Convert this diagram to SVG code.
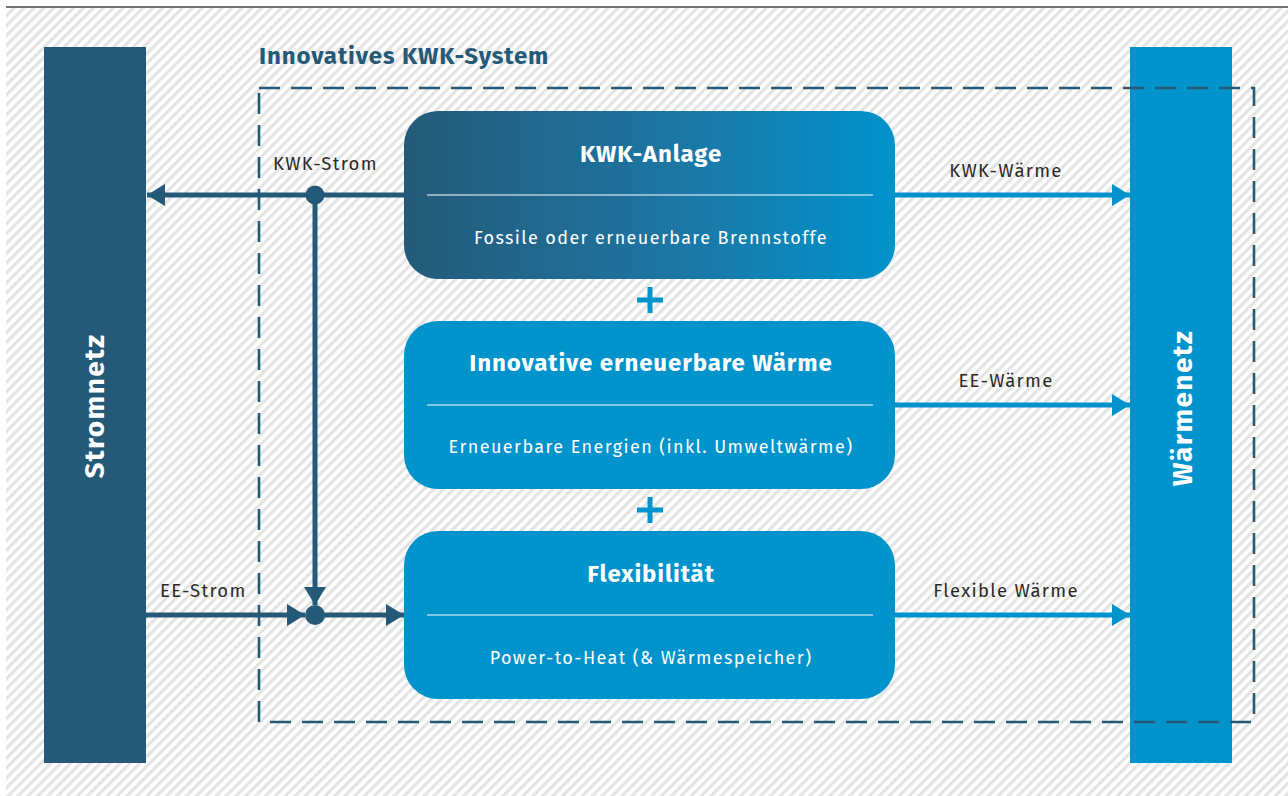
<svg xmlns="http://www.w3.org/2000/svg" width="1288" height="796" viewBox="0 0 1288 796">
<defs>
<pattern id="stripes" patternUnits="userSpaceOnUse" width="7" height="7" patternTransform="rotate(45)">
<rect width="7" height="7" fill="#ffffff"/>
<rect width="3.2" height="7" fill="#e4e4e4"/>
</pattern>
<linearGradient id="kwkGrad" x1="0" y1="0" x2="1" y2="0">
<stop offset="0" stop-color="#245a78"/>
<stop offset="0.55" stop-color="#1d76a4"/>
<stop offset="1" stop-color="#0093cc"/>
</linearGradient>
<marker id="arrDark" markerUnits="userSpaceOnUse" markerWidth="20" markerHeight="22" refX="18" refY="11" orient="auto">
<path d="M0,0 L18,11 L0,22 Z" fill="#245a78"/>
</marker>
<marker id="arrBlue" markerUnits="userSpaceOnUse" markerWidth="20" markerHeight="22" refX="18" refY="11" orient="auto">
<path d="M0,0 L18,11 L0,22 Z" fill="#0093cc"/>
</marker>
<style>
.bar-title{font-family:"Fira Sans","Open Sans","Noto Sans",sans-serif;font-weight:700;font-size:28px;letter-spacing:1.4px;fill:#ffffff;text-anchor:middle}
.box-title{font-family:"Fira Sans","Open Sans","Noto Sans",sans-serif;font-weight:700;font-size:24px;letter-spacing:0.9px;fill:#ffffff;text-anchor:middle}
.box-sub{font-family:"Fira Sans","Open Sans","Noto Sans",sans-serif;font-size:18px;letter-spacing:1.4px;fill:#ffffff;text-anchor:middle}
.lbl{font-family:"Fira Sans","Open Sans","Noto Sans",sans-serif;font-size:18.5px;letter-spacing:1.3px;fill:#2d2a26}
.sep{stroke:#ffffff;stroke-width:1.2}
.dark{stroke:#245a78;stroke-width:5;fill:none}
.blue{stroke:#0093cc;stroke-width:5;fill:none}
</style>
</defs>
<rect x="0" y="0" width="1288" height="796" fill="#ffffff"/>
<rect x="6" y="8" width="1282" height="788" fill="url(#stripes)"/>
<line x1="6" y1="7" x2="1288" y2="7" stroke="#4a4540" stroke-width="1.6"/>

<g id="stromnetz">
<rect x="44" y="47" width="102" height="716" fill="#245a78"/>
<text class="bar-title" transform="translate(104,406) rotate(-90)">Stromnetz</text>
</g>
<g id="waermenetz">
<rect x="1130" y="47" width="102" height="716" fill="#0093cc"/>
<text class="bar-title" transform="translate(1192,408) rotate(-90)">Wärmenetz</text>
</g>

<g id="system">
<text x="259" y="64" font-family="'Fira Sans','Open Sans','Noto Sans',sans-serif" font-weight="700" font-size="24" letter-spacing="0.9" fill="#245a78">Innovatives KWK-System</text>
<rect x="259" y="88" width="995" height="634" fill="none" stroke="#245a78" stroke-width="2.6" stroke-dasharray="21 11"/>
</g>

<g id="kwk-anlage">
<rect x="404" y="111" width="491" height="168" rx="34" fill="url(#kwkGrad)"/>
<text class="box-title" x="651" y="162">KWK-Anlage</text>
<line class="sep" x1="427" y1="195" x2="873" y2="195"/>
<text class="box-sub" x="651" y="244">Fossile oder erneuerbare Brennstoffe</text>
</g>
<g id="plus1">
<path d="M637,300 H663 M650,287 V313" stroke="#0093cc" stroke-width="5"/>
</g>
<g id="ee-waerme-box">
<rect x="404" y="321" width="491" height="168" rx="34" fill="#0093cc"/>
<text class="box-title" x="651" y="371">Innovative erneuerbare Wärme</text>
<line class="sep" x1="427" y1="405" x2="873" y2="405"/>
<text class="box-sub" x="651" y="453">Erneuerbare Energien (inkl. Umweltwärme)</text>
</g>
<g id="plus2">
<path d="M637,510 H663 M650,497 V523" stroke="#0093cc" stroke-width="5"/>
</g>
<g id="flexibilitaet">
<rect x="404" y="531" width="491" height="168" rx="34" fill="#0093cc"/>
<text class="box-title" x="651" y="582">Flexibilität</text>
<line class="sep" x1="427" y1="615" x2="873" y2="615"/>
<text class="box-sub" x="651" y="664">Power-to-Heat (&amp; Wärmespeicher)</text>
</g>

<g id="connectors">
<line class="dark" x1="404" y1="195" x2="147" y2="195" marker-end="url(#arrDark)"/>
<line class="dark" x1="315" y1="195" x2="315" y2="605" marker-end="url(#arrDark)"/>
<line class="dark" x1="146" y1="615" x2="305" y2="615" marker-end="url(#arrDark)"/>
<line class="dark" x1="315" y1="615" x2="404" y2="615" marker-end="url(#arrDark)"/>
<circle cx="315" cy="195" r="9.5" fill="#245a78"/>
<circle cx="315" cy="615" r="10" fill="#245a78"/>
<line class="blue" x1="895" y1="195" x2="1130" y2="195" marker-end="url(#arrBlue)"/>
<line class="blue" x1="895" y1="405" x2="1130" y2="405" marker-end="url(#arrBlue)"/>
<line class="blue" x1="895" y1="615" x2="1130" y2="615" marker-end="url(#arrBlue)"/>
<text class="lbl" x="273" y="170">KWK-Strom</text>
<text class="lbl" x="160" y="597">EE-Strom</text>
<text class="lbl" x="1006" y="177" text-anchor="middle">KWK-Wärme</text>
<text class="lbl" x="1006" y="387" text-anchor="middle">EE-Wärme</text>
<text class="lbl" x="1006" y="597" text-anchor="middle">Flexible Wärme</text>
</g>
</svg>
